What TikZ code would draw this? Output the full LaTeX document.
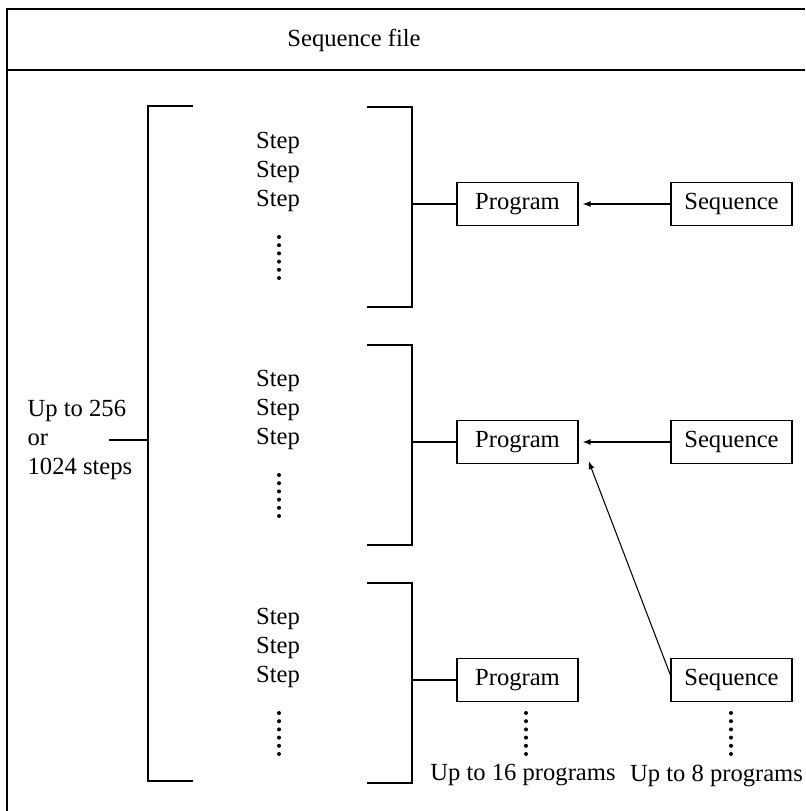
\documentclass[tikz,border=0pt]{standalone}
\usepackage{fontspec}
\setmainfont{Liberation Serif}
\usetikzlibrary{arrows.meta,positioning,calc}
\tikzset{
  seqarr/.style={-{Latex[length=1.6mm,width=1.2mm]}, line width=0.6pt},
  seqbox/.style={draw, line width=0.7pt, minimum width=2.42cm, minimum height=0.86cm, inner sep=2pt},
  seqdot/.style={fill, circle, inner sep=0pt, minimum size=0.8mm},
}

\begin{document}
\begin{tikzpicture}[
  font=\fontsize{14}{16.5}\selectfont,
  line width=0.75pt,
  steps/.style={align=center, inner sep=0pt},
]
  \useasboundingbox (0,0) rectangle (16.1,-16.22);
  % frame and header
  \draw[line width=0.9pt] (16.1,-0.18) -- (0.14,-0.18) -- (0.14,-16.22);
  \draw[line width=0.9pt] (0.14,-1.4) -- (16.1,-1.4);
  \node (title) at (7.08,-0.8) {Sequence file};

  % outer bracket
  \draw (3.86,-2.12) -- (2.96,-2.12) -- (2.96,-15.62) -- (3.86,-15.62);
  \coordinate (bigmid) at (2.96,-8.8);
  \node[align=left, anchor=west, inner sep=0pt] (limit) at (0.54,-8.8) {Up to 256\\or\\1024 steps};
  \coordinate (stub) at (2.18,-8.8);
  \draw (stub) -- (bigmid);

  % step groups and programs
  \foreach \g/\t in {1/-2.14, 2/-6.90, 3/-11.66} {
    \draw (7.34,\t) -- (8.24,\t) -- (8.24,\t-4) -- (7.34,\t-4);
    \node[steps] (steps\g) at (5.56,\t-1.3) {Step\\Step\\Step};
    \foreach \k in {0,...,5}
      \node[seqdot] at (5.58,\t-2.6-0.164*\k) {};
    \node[seqbox] (prog\g) at (10.35,\t-1.94) {Program};
    \node[seqbox] (seq\g) at (14.63,\t-1.94) {Sequence};
    \coordinate (br\g) at (8.24,\t-1.94);
    \draw (br\g) -- (prog\g.west);
  }

  \draw[seqarr, shorten >=0.08cm] (seq1.west) -- (prog1.east);
  \draw[seqarr, shorten >=0.08cm] (seq2.west) -- (prog2.east);
  \draw[seqarr] ([yshift=0.1cm]seq3.west) -- ([shift={(0.2,0.06)}]prog2.south east);

  % more programs
  \foreach \k in {0,...,5} {
    \node[seqdot] at (10.52,-14.26-0.164*\k) {};
    \node[seqdot] at (14.62,-14.26-0.164*\k) {};
  }
  \node (progmax) at (10.46,-15.5) {Up to 16 programs};
  \node (seqmax) at (14.33,-15.52) {Up to 8 programs};
\end{tikzpicture}
\end{document}
